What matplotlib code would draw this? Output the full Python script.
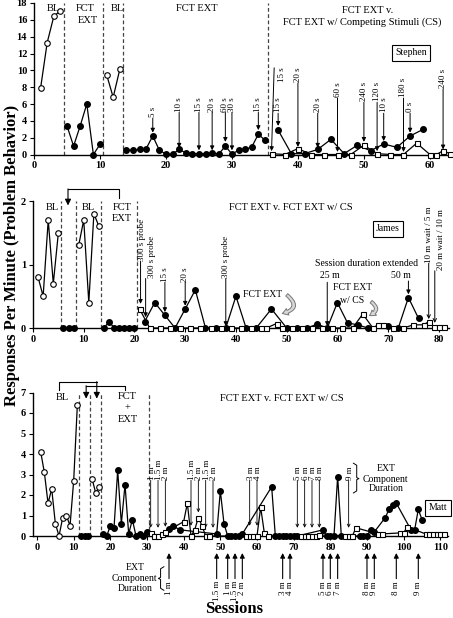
import matplotlib
matplotlib.use('Agg')
import matplotlib.pyplot as plt
from matplotlib.patches import FancyArrowPatch

plt.rcParams['font.family'] = ['Liberation Serif', 'DejaVu Serif']
plt.rcParams['font.size'] = 7

# ---------------- Stephen ----------------
st_bl1_x = [1, 2, 3, 4]
st_bl1_y = [7.9, 13.3, 16.4, 17.1]
st_fct1_x = [5, 6, 7, 8, 9, 10]
st_fct1_y = [3.4, 1.0, 3.4, 6.0, 0.0, 1.2]
st_bl2_x = [11, 12, 13]
st_bl2_y = [9.5, 6.8, 10.1]
st_fct2_x = list(range(14, 36))
st_fct2_y = [0.5, 0.5, 0.6, 0.7, 2.2, 0.5, 0.05, 0.05, 0.6, 0.2, 0.1, 0.1, 0.1, 0.2,
             0.05, 1.0, 0.05, 0.5, 0.6, 0.9, 2.4, 1.7]
st_ext_x = [37, 39, 41, 43, 45, 47, 49, 51, 53, 55, 57, 59]
st_ext_y = [2.9, 0.1, 0.1, 0.6, 1.8, 0.1, 1.1, 0.45, 1.25, 0.85, 2.2, 3.0]
st_cs_x = [36, 38, 40, 42, 44, 46, 48, 50, 52, 54, 56, 58, 60, 61, 62, 63]
st_cs_y = [0.1, 0.0, 0.7, 0.0, 0.0, 0.0, 0.0, 1.1, 0.1, 0.0, 0.0, 1.35, 0.0, 0.0, 0.45, 0.1]
st_phase = [4.5, 10.5, 13.5, 35.5]
st_arrows = [(18, '5 s', 4.3, 2.6), (22, '10 s', 5.0, 0.8), (25, '15 s', 5.0, 0.5),
             (27, '20 s', 5.0, 0.5), (29, '60 s', 5.0, 1.5), (30, '30 s', 5.0, 0.5),
             (34, '15 s', 5.0, 2.9), (37, '15 s', 4.9, 3.4), (40, '20 s', 8.5, 0.9),
             (43, '20 s', 4.9, 0.8), (46, '60 s', 6.7, 0.3), (50, '240 s', 6.2, 1.5),
             (52, '120 s', 6.2, 0.4), (53, '10 s', 4.9, 1.6), (56, '180 s', 6.7, 0.3),
             (57, '0 s', 4.9, 2.6), (62, '240 s', 7.8, 0.6)]

# ---------------- James ----------------
ja_bl1_x = [1, 2, 3, 4, 5]
ja_bl1_y = [0.8, 0.5, 1.7, 0.7, 1.5]
ja_fct1_x = [6, 7, 8]
ja_fct1_y = [0, 0, 0]
ja_bl2_x = [9, 10, 11, 12, 13]
ja_bl2_y = [1.3, 1.7, 0.4, 1.8, 1.6]
ja_fct2_x = [14, 15, 16, 17, 18, 19, 20]
ja_fct2_y = [0, 0.1, 0, 0, 0, 0, 0]
ja_ext_x = [22, 24, 26, 28, 30, 32, 34, 36, 38, 40, 42, 44, 47, 50, 52, 54, 56, 58, 60,
            62, 64, 66, 70, 72, 74, 76]
ja_ext_y = [0.1, 0.4, 0.2, 0, 0.3, 0.6, 0, 0, 0, 0.5, 0, 0, 0.3, 0, 0, 0, 0.06, 0, 0.4,
            0.08, 0.05, 0, 0.03, 0, 0.48, 0.15]
ja_cs_x = [21, 23, 25, 27, 29, 31, 33, 35, 37, 39, 41, 43, 45, 46, 48, 49, 51, 53, 55, 57,
           59, 61, 63, 65, 67, 68, 69, 71, 73, 75, 77, 78, 79, 80, 81]
ja_cs_y = [0.3, 0, 0, 0, 0, 0, 0, 0, 0, 0, 0, 0, 0, 0, 0.07, 0, 0, 0, 0, 0,
           0, 0, 0, 0.22, 0, 0.05, 0.05, 0, 0, 0.05, 0.05, 0.1, 0.02, 0.02, 0.02]
ja_phase = [5.5, 8.5, 13.5, 20.5]

# ---------------- Matt ----------------
ma_bl1_x = list(range(1, 12))
ma_bl1_y = [4.1, 3.1, 1.6, 2.3, 0.6, 0, 0.9, 1.0, 0.5, 2.7, 6.4]
ma_fct1_x = [12, 13, 14]
ma_fct1_y = [0, 0, 0]
ma_bl2_x = [15, 16, 17]
ma_bl2_y = [2.8, 2.1, 2.4]
ma_fct2_x = list(range(18, 31))
ma_fct2_y = [0.1, 0, 0.5, 0.4, 3.2, 0.6, 2.5, 0.1, 0.8, 0, 0.1, 0, 0.2]
ma_ext_x = [36, 37, 39, 49, 50, 51, 52, 53, 54, 55, 56, 64, 65, 66, 67, 68, 69, 70, 71,
            78, 79, 80, 81, 82, 83, 88, 89, 90, 91, 92, 95, 96, 97, 98, 102, 103, 104, 105]
ma_ext_y = [0.35, 0.5, 0.3, 0.1, 2.2, 0.6, 0, 0, 0, 0, 0.1, 2.4, 0, 0, 0, 0, 0, 0, 0,
            0.3, 0, 0, 0, 2.9, 0, 0, 0, 0, 0.3, 0.2, 0.9, 1.3, 1.5, 1.6, 0.3, 0.3, 1.3, 0.8]
ma_cs_x = [31, 32, 33, 34, 35, 40, 41, 42, 43, 44, 45, 46, 47, 57, 58, 59, 60, 61, 62, 63,
           72, 73, 74, 75, 76, 77, 84, 85, 86, 87, 93, 94, 99, 100, 101, 106, 107, 108,
           109, 110, 111]
ma_cs_y = [0.15, 0, 0, 0.1, 0.2, 0.7, 1.6, 0, 0.3, 0.9, 0.5, 0, 0, 0, 0, 0, 0, 1.4, 0.15, 0,
           0, 0, 0, 0, 0, 0.05, 0, 0, 0, 0.4, 0.1, 0.1, 0.15, 0.15, 0.45, 0.1, 0.1, 0.1,
           0.1, 0.1, 0.1]
ma_phase = [11.5, 14.5, 17.5, 30.5]
ma_top = [(31, '1 m', 0.4), (33, '1.5 m', 0.4), (35, '2 m', 0.45), (42, '1.5 m', 0.5),
          (44, '2 m', 1.15), (46, '1.5 m', 0.4), (48, '2 m', 0.4), (58, '3 m', 0.5),
          (60, '4 m', 0.5), (71, '5 m', 0.4), (73, '6 m', 0.4), (75, '7 m', 0.4),
          (77, '8 m', 0.4), (85, '9 m', 0.4)]
ma_bottom = [(36, '1 m'), (49, '1.5 m'), (52, '1 m'), (54, '1.5 m'), (56, '2 m'),
             (67, '3 m'), (69, '4 m'), (78, '5 m'), (80, '6 m'), (82, '7 m'),
             (90, '8 m'), (92, '9 m'), (98, '8 m'), (104, '9 m')]

W, H = 453, 618
fig = plt.figure(figsize=(W / 100, H / 100), dpi=100)


def pos(l, r, t, b):
    return [l / W, 1 - b / H, (r - l) / W, (b - t) / H]


def style(ax):
    for s in ['top', 'right']:
        ax.spines[s].set_visible(False)
    for s in ['left', 'bottom']:
        ax.spines[s].set_linewidth(1.0)
    ax.tick_params(direction='out', length=3, width=0.8, labelsize=7.5, pad=2)
    for lab in ax.get_xticklabels() + ax.get_yticklabels():
        lab.set_fontweight('bold')


def open_c(ax, x, y):
    ax.plot(x, y, '-', color='k', lw=0.9, marker='o', ms=4, mfc='white', mec='k', mew=0.8,
            clip_on=False, zorder=4)


def fill_c(ax, x, y):
    ax.plot(x, y, '-', color='k', lw=0.9, marker='o', ms=4, mfc='k', mec='k',
            clip_on=False, zorder=4)


def sq(ax, x, y):
    ax.plot(x, y, '-', color='k', lw=0.9, marker='s', ms=3.6, mfc='white', mec='k', mew=0.8,
            clip_on=False, zorder=5)


def phase(ax, xs, top):
    for x in xs:
        ax.plot([x, x], [0, top], ls=(0, (3, 2)), color='#444444', lw=0.9, clip_on=False, zorder=2)


def arrow(ax, x, y0, y1, style='-|>', ms=6, lw=0.7, color='k', x0=None):
    ax.annotate('', xy=(x, y1), xytext=(x if x0 is None else x0, y0),
                arrowprops=dict(arrowstyle=style, color=color, lw=lw, mutation_scale=ms,
                                shrinkA=0, shrinkB=0), annotation_clip=False)


def seg(ax, xs, ys, lw=0.8):
    ax.plot(xs, ys, color='k', lw=lw, clip_on=False, zorder=3)


# ===== Panel 1: Stephen =====
ax1 = fig.add_axes(pos(34, 451, 3, 154.5))
ax1.set_xlim(0, 63.2)
ax1.set_ylim(0, 18)
ax1.set_yticks(range(0, 19, 2))
ax1.set_xticks(range(0, 61, 10))
style(ax1)
phase(ax1, st_phase, 18)
open_c(ax1, st_bl1_x, st_bl1_y)
fill_c(ax1, st_fct1_x, st_fct1_y)
open_c(ax1, st_bl2_x, st_bl2_y)
fill_c(ax1, st_fct2_x, st_fct2_y)
fill_c(ax1, st_ext_x, st_ext_y)
sq(ax1, st_cs_x, st_cs_y)
for x, lab, y0, y1 in st_arrows:
    arrow(ax1, x, y0, y1)
    ax1.text(x, y0 + 0.1, lab, rotation=90, ha='center', va='bottom', fontsize=6.5)
arrow(ax1, 36, 10.3, 0.4, x0=36.4)
ax1.text(37.6, 8.6, '15 s', rotation=90, ha='center', va='bottom', fontsize=6.5)
ax1.text(2.9, 17.4, 'BL', ha='center', va='center', fontsize=7.5)
ax1.text(7.7, 17.4, 'FCT', ha='center', va='center', fontsize=7.5)
ax1.text(8.1, 15.9, 'EXT', ha='center', va='center', fontsize=7.5)
ax1.text(12.7, 17.4, 'BL', ha='center', va='center', fontsize=7.5)
ax1.text(24.7, 17.4, 'FCT EXT', ha='center', va='center', fontsize=7.5)
ax1.text(50.5, 17.1, 'FCT EXT v.', ha='center', va='center', fontsize=7.5)
ax1.text(49.7, 15.7, 'FCT EXT w/ Competing Stimuli (CS)', ha='center', va='center', fontsize=7.5)
ax1.text(57.1, 12.1, 'Stephen', ha='center', va='center', fontsize=7,
         bbox=dict(boxstyle='square,pad=0.35', fc='white', ec='k', lw=0.8))

# ===== Panel 2: James =====
ax2 = fig.add_axes(pos(33, 449, 201, 328))
ax2.set_xlim(0, 82)
ax2.set_ylim(0, 2)
ax2.set_yticks([0, 1, 2])
ax2.set_xticks(range(0, 81, 10))
style(ax2)
phase(ax2, ja_phase, 2.0)
open_c(ax2, ja_bl1_x, ja_bl1_y)
fill_c(ax2, ja_fct1_x, ja_fct1_y)
open_c(ax2, ja_bl2_x, ja_bl2_y)
fill_c(ax2, ja_fct2_x, ja_fct2_y)
fill_c(ax2, ja_ext_x, ja_ext_y)
sq(ax2, ja_cs_x, ja_cs_y)
# bracket
seg(ax2, [6.9, 17.0, 17.0], [2.19, 2.19, 2.05])
arrow(ax2, 6.9, 2.19, 1.93, ms=9, lw=0.8)
ax2.text(3.75, 1.9, 'BL', ha='center', va='center', fontsize=7.5)
ax2.text(11.0, 1.9, 'BL', ha='center', va='center', fontsize=7.5)
ax2.text(17.6, 1.9, 'FCT', ha='center', va='center', fontsize=7.5)
ax2.text(17.6, 1.72, 'EXT', ha='center', va='center', fontsize=7.5)
ax2.text(50.9, 1.9, 'FCT EXT v. FCT EXT w/ CS', ha='center', va='center', fontsize=7.5)
ax2.text(70.0, 1.56, 'James', ha='center', va='center', fontsize=7,
         bbox=dict(boxstyle='square,pad=0.35', fc='white', ec='k', lw=0.8))
# probes and arrows
arrow(ax2, 21.2, 1.05, 0.38)
ax2.text(21.5, 1.06, '300 s probe', rotation=90, ha='center', va='bottom', fontsize=6.5)
arrow(ax2, 22.2, 0.78, 0.17)
ax2.text(23.5, 0.78, '300 s probe', rotation=90, ha='center', va='bottom', fontsize=6.5)
arrow(ax2, 26, 0.72, 0.25)
ax2.text(26, 0.73, '15 s', rotation=90, ha='center', va='bottom', fontsize=6.5)
arrow(ax2, 30, 0.72, 0.35)
ax2.text(30, 0.73, '20 s', rotation=90, ha='center', va='bottom', fontsize=6.5)
arrow(ax2, 38, 0.78, 0.03)
ax2.text(38, 0.79, '300 s probe', rotation=90, ha='center', va='bottom', fontsize=6.5)
ax2.text(65.7, 1.02, 'Session duration extended', ha='center', va='center', fontsize=7)
ax2.text(58.6, 0.82, '25 m', ha='center', va='center', fontsize=7)
arrow(ax2, 58, 0.72, 0.03)
ax2.text(72.5, 0.82, '50 m', ha='center', va='center', fontsize=7)
arrow(ax2, 74, 0.74, 0.53)
arrow(ax2, 78, 1.02, 0.14, style='->')
ax2.text(78, 1.03, '10 m wait / 5 m', rotation=90, ha='center', va='bottom', fontsize=6.5)
arrow(ax2, 79.2, 0.9, 0.08, style='->')
ax2.text(80.4, 0.91, '20 m wait / 10 m', rotation=90, ha='center', va='bottom', fontsize=6.5)
ax2.text(45.2, 0.53, 'FCT EXT', ha='center', va='center', fontsize=7)
ax2.text(62.9, 0.63, 'FCT EXT', ha='center', va='center', fontsize=7)
ax2.text(62.9, 0.44, 'w/ CS', ha='center', va='center', fontsize=7)
for (p0, p1, rad) in [((49.6, 0.55), (48.6, 0.22), -1.1), ((66.2, 0.44), (65.8, 0.18), -1.0)]:
    fa = FancyArrowPatch(p0, p1, connectionstyle='arc3,rad=%s' % rad,
                         arrowstyle='simple,head_width=5,head_length=4,tail_width=2.2',
                         fc='#d8d8d8', ec='#777777', lw=0.7, clip_on=False, zorder=6,
                         mutation_scale=1)
    ax2.add_patch(fa)

# ===== Panel 3: Matt =====
ax3 = fig.add_axes(pos(33, 448, 392.5, 536))
ax3.set_xlim(-1.1, 112.1)
ax3.set_ylim(0, 7)
ax3.set_yticks(range(0, 8))
ax3.set_xticks(range(0, 111, 10))
style(ax3)
phase(ax3, ma_phase, 7.0)
open_c(ax3, ma_bl1_x, ma_bl1_y)
fill_c(ax3, ma_fct1_x, ma_fct1_y)
open_c(ax3, ma_bl2_x, ma_bl2_y)
fill_c(ax3, ma_fct2_x, ma_fct2_y)
fill_c(ax3, ma_ext_x, ma_ext_y)
sq(ax3, ma_cs_x, ma_cs_y)
# brackets
seg(ax3, [6.1, 6.1, 16.3], [7.12, 7.53, 7.53])
arrow(ax3, 16.3, 7.53, 6.7, ms=9, lw=0.8)
seg(ax3, [13.4, 24.0, 24.0], [7.33, 7.33, 7.12])
arrow(ax3, 13.4, 7.33, 6.7, ms=9, lw=0.8)
ax3.text(7.0, 6.75, 'BL', ha='center', va='center', fontsize=7.5)
ax3.text(24.7, 6.8, 'FCT', ha='center', va='center', fontsize=7.5)
ax3.text(24.7, 6.24, '+', ha='center', va='center', fontsize=7.5)
ax3.text(24.7, 5.66, 'EXT', ha='center', va='center', fontsize=7.5)
ax3.text(66.8, 6.73, 'FCT EXT v. FCT EXT w/ CS', ha='center', va='center', fontsize=7.5)
ax3.text(109.4, 1.37, 'Matt', ha='center', va='center', fontsize=7,
         bbox=dict(boxstyle='square,pad=0.35', fc='white', ec='k', lw=0.8))
for x, lab, tip in ma_top:
    arrow(ax3, x, 2.72, tip, style='->', ms=5, lw=0.6)
    ax3.text(x + 0.3, 2.75, lab, rotation=90, ha='center', va='bottom', fontsize=6.5)
for x, lab in ma_bottom:
    arrow(ax3, x, -2.08, -0.83, ms=7, lw=0.8)
    ax3.text(x, -2.2, lab, rotation=90, ha='center', va='top', fontsize=6.5)
# EXT component duration labels
ax3.text(95.1, 3.3, 'EXT', ha='center', va='center', fontsize=7)
ax3.text(95.1, 2.78, 'Component', ha='center', va='center', fontsize=7)
ax3.text(95.1, 2.3, 'Duration', ha='center', va='center', fontsize=7)
seg(ax3, [86.3, 87.2, 87.2, 87.8, 87.2, 87.2, 86.3],
    [3.55, 3.45, 2.85, 2.8, 2.75, 2.2, 2.1], lw=0.7)
ax3.text(26.7, -1.56, 'EXT', ha='center', va='center', fontsize=7)
ax3.text(26.7, -2.08, 'Component', ha='center', va='center', fontsize=7)
ax3.text(26.7, -2.58, 'Duration', ha='center', va='center', fontsize=7)
seg(ax3, [34.6, 33.7, 33.7, 33.1, 33.7, 33.7, 34.6],
    [-1.5, -1.6, -2.02, -2.07, -2.12, -2.55, -2.65], lw=0.7)

fig.text(12 / W, 1 - 255 / H, 'Responses Per Minute (Problem Behavior)', rotation=90,
         ha='center', va='center', fontsize=12, fontweight='bold')
fig.text(234 / W, 1 - 609 / H, 'Sessions', ha='center', va='center', fontsize=12,
         fontweight='bold')

fig.savefig('out.png', dpi=100)
